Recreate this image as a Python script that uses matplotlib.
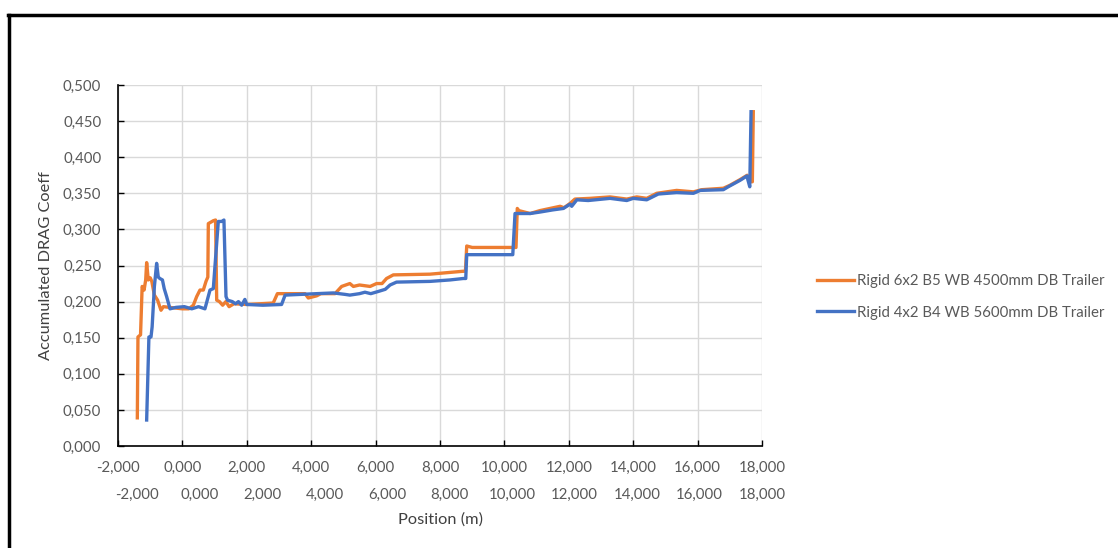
import matplotlib
matplotlib.use("Agg")
import matplotlib.pyplot as plt
from matplotlib.lines import Line2D

# Accumulated drag coefficient along the vehicle (position in m)
pos_6x2 = [-1400, -1380, -1300, -1250, -1190, -1140, -1110, -1060, -1000, -950,
           -870, -770, -665, -590, -400, 0, 200, 340, 444, 546, 650, 733, 790,
           805, 960, 1030, 1065, 1150, 1250, 1350, 1450, 1600, 2000, 2820, 2950,
           3810, 3910, 4170, 4300, 4740, 4945, 5200, 5310, 5500, 5830, 6030, 6200,
           6340, 6550, 7690, 8710, 8790, 8830, 9000, 10360, 10400, 10450, 10800,
           11100, 11730, 11850, 12040, 12190, 12660, 13280, 13800, 14110, 14420,
           14730, 15350, 15870, 16130, 16800, 17000, 17320, 17540, 17640, 17700,
           17730]
cd_6x2 = [0.039, 0.151, 0.154, 0.221, 0.216, 0.230, 0.254, 0.230, 0.233, 0.228,
          0.209, 0.202, 0.188, 0.193, 0.192, 0.190, 0.190, 0.195, 0.207, 0.216,
          0.216, 0.228, 0.234, 0.308, 0.312, 0.313, 0.202, 0.200, 0.195, 0.200,
          0.193, 0.197, 0.196, 0.198, 0.211, 0.211, 0.205, 0.208, 0.211, 0.211,
          0.221, 0.225, 0.221, 0.223, 0.221, 0.225, 0.225, 0.232, 0.237, 0.238,
          0.242, 0.242, 0.277, 0.275, 0.275, 0.329, 0.326, 0.322, 0.326, 0.332,
          0.330, 0.336, 0.342, 0.343, 0.345, 0.342, 0.345, 0.343, 0.350, 0.354,
          0.352, 0.355, 0.357, 0.361, 0.369, 0.375, 0.366, 0.366, 0.463]

pos_4x2 = [-1110, -1040, -975, -940, -870, -800, -750, -700, -620, -565, -490,
           -385, -200, 60, 290, 500, 700, 857, 960, 1115, 1220, 1290, 1354, 1400,
           1550, 1650, 1740, 1840, 1940, 2000, 2500, 3080, 3190, 4170, 4690, 5050,
           5200, 5500, 5670, 5850, 6080, 6300, 6450, 6650, 7690, 8310, 8720, 8800,
           8830, 10260, 10330, 10800, 11100, 11500, 11830, 12040, 12090, 12250,
           12600, 13280, 13800, 14000, 14420, 14780, 15350, 15870, 16080, 16800,
           16950, 17320, 17530, 17620, 17660]
cd_4x2 = [0.036, 0.151, 0.151, 0.165, 0.221, 0.253, 0.234, 0.232, 0.230, 0.218,
          0.207, 0.190, 0.192, 0.193, 0.190, 0.193, 0.190, 0.216, 0.218, 0.311,
          0.311, 0.313, 0.207, 0.202, 0.200, 0.197, 0.200, 0.195, 0.203, 0.196,
          0.195, 0.196, 0.209, 0.211, 0.212, 0.210, 0.209, 0.211, 0.213, 0.211,
          0.214, 0.217, 0.223, 0.227, 0.228, 0.230, 0.232, 0.232, 0.265, 0.265,
          0.322, 0.322, 0.324, 0.327, 0.329, 0.335, 0.332, 0.341, 0.340, 0.343,
          0.340, 0.343, 0.341, 0.349, 0.351, 0.350, 0.354, 0.355, 0.359, 0.368,
          0.374, 0.359, 0.463]

series_names = ["Rigid 6x2 B5 WB 4500mm DB Trailer",
                "Rigid 4x2 B4 WB 5600mm DB Trailer"]
series_colors = ["#ED7D31", "#4472C4"]

x_ticks = list(range(-2000, 18001, 2000))
x_tick_labels = ["-2,000", "0,000", "2,000", "4,000", "6,000", "8,000",
                 "10,000", "12,000", "14,000", "16,000", "18,000"]
y_ticks = [0.0, 0.05, 0.10, 0.15, 0.20, 0.25, 0.30, 0.35, 0.40, 0.45, 0.50]
y_tick_labels = ["0,000", "0,050", "0,100", "0,150", "0,200", "0,250",
                 "0,300", "0,350", "0,400", "0,450", "0,500"]

plt.rcParams["font.family"] = ["Lato", "DejaVu Sans"]
TICK_COLOR = "#595959"
TITLE_COLOR = "#404040"

W, H = 1118, 548
fig = plt.figure(figsize=(W / 100, H / 100), dpi=100)
fig.patch.set_facecolor("white")

ax = fig.add_axes([118 / W, 1 - 446 / H, (762 - 118) / W, (446 - 85) / H])
ax.set_xlim(-2000, 18000)
ax.set_ylim(0, 0.5)

ax.plot(pos_6x2, cd_6x2, color=series_colors[0], lw=2.4,
        solid_joinstyle="round", zorder=3)
ax.plot(pos_4x2, cd_4x2, color=series_colors[1], lw=2.4,
        solid_joinstyle="round", zorder=4)

ax.set_xticks(x_ticks)
ax.set_xticklabels(x_tick_labels)
ax.set_yticks(y_ticks)
ax.set_yticklabels(y_tick_labels)
ax.grid(True, color="#D9D9D9", lw=1.0, zorder=0)
ax.set_axisbelow(True)
for side in ("top", "right"):
    ax.spines[side].set_visible(False)
for side in ("left", "bottom"):
    ax.spines[side].set_color("black")
    ax.spines[side].set_linewidth(1.2)
ax.tick_params(axis="both", direction="in", length=4, width=1.0, color="black",
               labelsize=10.8, labelcolor=TICK_COLOR)
ax.tick_params(axis="x", pad=11)
ax.tick_params(axis="y", pad=12)

# second row of position labels, shifted to the right
ax2 = ax.twiny()
ax2.set_xlim(-2000 - 610, 18000 - 610)
ax2.xaxis.set_ticks_position("bottom")
ax2.xaxis.set_label_position("bottom")
ax2.set_xticks(x_ticks)
ax2.set_xticklabels(x_tick_labels)
for s in ax2.spines.values():
    s.set_visible(False)
ax2.tick_params(axis="x", length=0, pad=30, labelsize=10.8, labelcolor=TICK_COLOR)
ax2.set_xlabel("Position (m)", fontsize=11.8, color=TITLE_COLOR, labelpad=8)

ax.set_ylabel("Accumulated DRAG Coeff", fontsize=11.8, color=TITLE_COLOR,
              labelpad=7)

handles = [Line2D([], [], color=c, lw=2.4) for c in series_colors]
fig.legend(handles, series_names, loc="center left",
           bbox_to_anchor=(803 / W, 1 - 297 / H), frameon=False,
           fontsize=10.8, labelcolor=TICK_COLOR, handlelength=2.5,
           handletextpad=0.2, labelspacing=1.15)

# chart frame
fig.add_artist(Line2D([8 / W, 1.0], [1 - 15 / H, 1 - 15 / H], color="black",
                      lw=2.5, transform=fig.transFigure))
fig.add_artist(Line2D([8.5 / W, 8.5 / W], [1 - 15 / H, 0.0], color="black",
                      lw=2.5, transform=fig.transFigure))

fig.savefig("out.png", dpi=100, facecolor="white")
